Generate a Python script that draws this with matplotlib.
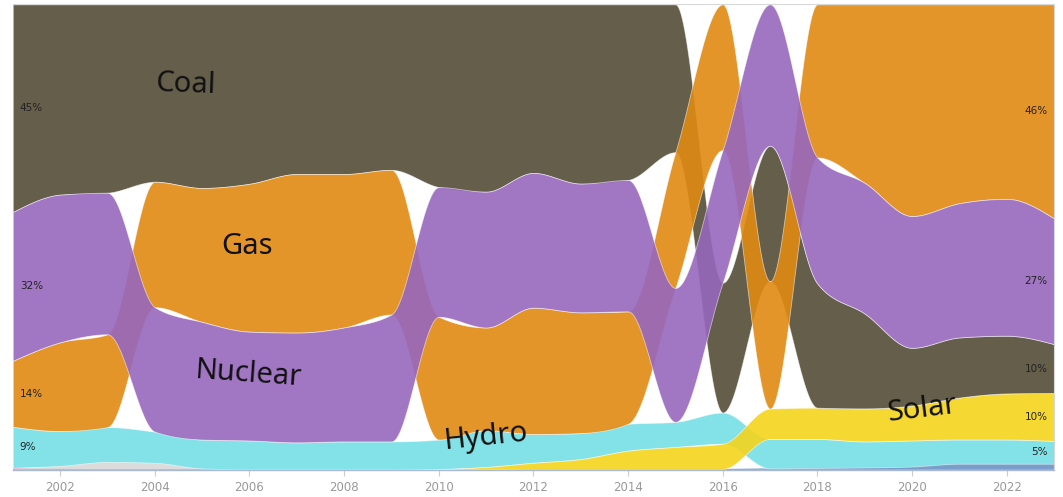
import numpy as np
import matplotlib
matplotlib.use("Agg")
import matplotlib.pyplot as plt
from matplotlib.colors import to_rgba

years = list(range(2001, 2024))

# share of generation (%) per year
coal = [44.7, 41.0, 40.6, 38.2, 39.5, 38.6, 36.5, 36.5, 35.6, 39.3, 40.3, 36.3,
        38.6, 37.8, 31.8, 27.9, 29.0, 26.6, 20.4, 12.4, 12.9, 12.4, 10.5]
gas = [14.2, 19.1, 20.0, 27.0, 28.8, 31.8, 34.1, 33.0, 31.1, 26.4, 22.1, 27.2,
       26.0, 24.2, 29.2, 31.3, 27.3, 32.8, 38.4, 45.5, 42.7, 41.8, 46.0]
nuclear = [32.0, 31.8, 30.5, 26.8, 25.3, 23.4, 23.6, 24.5, 27.3, 27.9, 29.2, 29.0,
           27.7, 28.3, 28.8, 28.5, 30.3, 27.0, 28.1, 28.3, 28.8, 29.4, 27.0]
hydro = [8.8, 7.5, 7.5, 6.7, 6.2, 6.2, 5.8, 6.0, 6.0, 6.3, 7.9, 6.2,
         5.6, 5.8, 5.4, 6.7, 6.3, 6.2, 5.6, 5.6, 5.2, 5.2, 4.9]
solar = [0.0, 0.0, 0.0, 0.0, 0.0, 0.0, 0.0, 0.0, 0.0, 0.1, 0.5, 1.3,
         2.1, 3.9, 4.7, 5.4, 6.5, 6.7, 7.1, 7.5, 9.0, 9.9, 10.3]
wind = [0.1, 0.1, 0.1, 0.1, 0.1, 0.1, 0.1, 0.1, 0.1, 0.1, 0.1, 0.2,
        0.2, 0.2, 0.2, 0.2, 0.3, 0.4, 0.5, 0.7, 1.3, 1.3, 1.3]
other = [0.1, 0.7, 1.6, 1.4, 0.2, 0.0, 0.0, 0.0, 0.0, 0.0, 0.0, 0.0,
         0.0, 0.0, 0.0, 0.0, 0.0, 0.0, 0.0, 0.0, 0.0, 0.0, 0.0]
oil = [0.3, 0.1, 0.05, 0.05, 0.05, 0.05, 0.05, 0.05, 0.05, 0.05, 0.05, 0.05,
       0.05, 0.05, 0.05, 0.05, 0.05, 0.05, 0.05, 0.05, 0.05, 0.05, 0.05]

# name, values, color, show edge; listed in drawing order
series = [
    ("Oil", oil, "#e79ccc", False),
    ("Other", other, "#d9d9d9", False),
    ("Wind", wind, "#6d93c4", False),
    ("Hydro", hydro, "#75dfe5", True),
    ("Solar", solar, "#f5d41d", True),
    ("Coal", coal, "#534c37", True),
    ("Gas", gas, "#e08a13", True),
    ("Nuclear", nuclear, "#9767bd", True),
]

labels = {
    "Coal": (2004.66, 17.2, -2),
    "Gas": (2005.95, 52.1, 0),
    "Nuclear": (2005.97, 79.4, -4),
    "Hydro": (2010.98, 93.0, 6),
    "Solar": (2020.21, 87.0, 7),
}


def monotone(xs, ys, n=48):
    """Monotone cubic (d3.curveMonotoneX style) through the points."""
    xs = np.asarray(xs, float)
    ys = np.asarray(ys, float)
    h = np.diff(xs)
    s = np.diff(ys) / h
    m = np.zeros_like(ys)
    sg = lambda v: -1.0 if v < 0 else 1.0
    for i in range(1, len(xs) - 1):
        s0, s1 = s[i - 1], s[i]
        p = (s0 * h[i] + s1 * h[i - 1]) / (h[i - 1] + h[i])
        m[i] = (sg(s0) + sg(s1)) * min(abs(s0), abs(s1), 0.5 * abs(p))
    m[0] = (3 * s[0] - m[1]) / 2
    m[-1] = (3 * s[-1] - m[-2]) / 2
    xo, yo = [], []
    t = np.linspace(0, 1, n, endpoint=False)
    for i in range(len(xs) - 1):
        h00 = 2 * t**3 - 3 * t**2 + 1
        h10 = t**3 - 2 * t**2 + t
        h01 = -2 * t**3 + 3 * t**2
        h11 = t**3 - t**2
        xo.append(xs[i] + t * h[i])
        yo.append(h00 * ys[i] + h10 * h[i] * m[i] + h01 * ys[i + 1] + h11 * h[i] * m[i + 1])
    xo.append([xs[-1]])
    yo.append([ys[-1]])
    return np.concatenate(xo), np.concatenate(yo)


# stack each year by rank: biggest on top
vals = np.array([s[1] for s in series], float)
tops = np.zeros_like(vals)
bots = np.zeros_like(vals)
for j in range(len(years)):
    col = vals[:, j]
    order = sorted(range(len(col)), key=lambda k: -col[k])
    total = col.sum()
    acc = 0.0
    for k in order:
        tops[k, j] = acc / total * 100
        acc += col[k]
        bots[k, j] = acc / total * 100

fig = plt.figure(figsize=(10.63, 4.97), dpi=100)
ax = fig.add_axes([0.012, 0.0543, 0.9795, 0.937])

for i, (name, v, color, edge) in enumerate(series):
    xf, yt = monotone(years, tops[i])
    _, yb = monotone(years, bots[i])
    ax.fill_between(xf, yt, yb, facecolor=to_rgba(color, 0.9),
                    edgecolor=(1, 1, 1, 0.55) if edge else "none",
                    linewidth=0.6 if edge else 0)

for name, (x, y, rot) in labels.items():
    ax.text(x, y, name, fontsize=21, rotation=rot, fontweight="light",
            ha="center", va="center", color="#111111",
            family=["Noto Sans", "DejaVu Sans"])

# percentage labels at both ends
for i, (name, v, color, edge) in enumerate(series):
    if v[0] >= 4:
        ax.text(2001.15, (tops[i, 0] + bots[i, 0]) / 2, f"{round(v[0])}%",
                fontsize=7.5, ha="left", va="center", color="#222222")
    if v[-1] >= 4:
        ax.text(2022.86, (tops[i, -1] + bots[i, -1]) / 2, f"{round(v[-1])}%",
                fontsize=7.5, ha="right", va="center", color="#222222")

ax.set_xlim(2001, 2023)
ax.set_ylim(100, 0)
ax.set_xticks(range(2002, 2023, 2))
ax.set_yticks([])
ax.tick_params(axis="x", length=4, color="#cccccc", labelcolor="#999999",
               labelsize=8.5, pad=4)
for side in ("top", "right"):
    ax.spines[side].set_color("#d8d8d8")
    ax.spines[side].set_linewidth(0.8)
ax.spines["left"].set_visible(False)
ax.spines["bottom"].set_color("#a9b9d6")
ax.spines["bottom"].set_linewidth(1.0)

fig.savefig("out.png", dpi=100)
